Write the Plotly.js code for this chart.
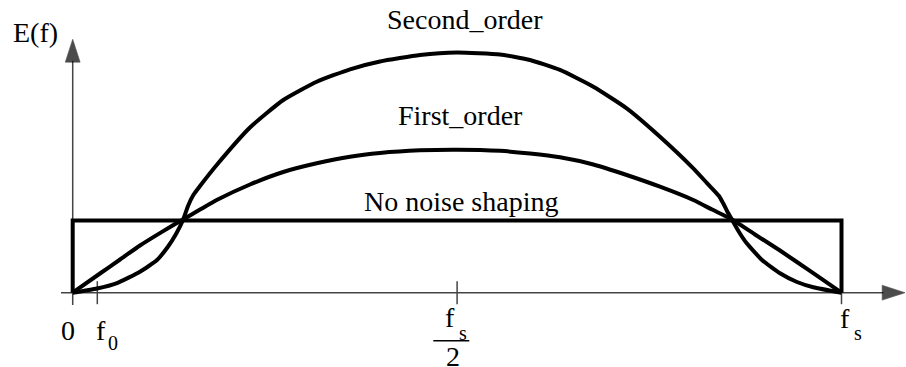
<!DOCTYPE html>
<html>
<head>
<meta charset="utf-8">
<script src="https://cdn.plot.ly/plotly-3.0.1.min.js"></script>
<style>
  html, body { margin: 0; padding: 0; background: #fff; }
  #chart { width: 906px; height: 367px; }
</style>
</head>
<body>
<div id="chart"></div>
<script>
// Quantisation noise spectrum E(f) versus normalised frequency f/fs.
// Noise level unit = the flat (unshaped) noise floor.

const freqFlat  = [0, 0, 1, 1];
const noiseFlat = [0, 1, 1, 0];

const freqFirst  = [0, 0.0355, 0.0616, 0.0875, 0.1161, 0.1439, 0.1656, 0.1873, 0.2306, 0.2739,
                    0.3174, 0.3607, 0.3997, 0.4517, 0.4999, 0.5558, 0.5948, 0.6338, 0.6772,
                    0.7206, 0.7639, 0.8072, 0.8316, 0.8572, 0.8875, 0.9200, 0.9590, 1.0];
const noiseFirst = [0, 0.266, 0.460, 0.654, 0.843, 1.017, 1.151, 1.284, 1.499, 1.672,
                    1.792, 1.884, 1.935, 1.972, 1.981, 1.965, 1.928, 1.875, 1.776,
                    1.630, 1.468, 1.284, 1.152, 1.017, 0.806, 0.584, 0.301, 0];

const freqSecond  = [0, 0.0316, 0.0576, 0.0875, 0.1097, 0.1236, 0.1344, 0.1439, 0.1500, 0.1569,
                     0.1656, 0.1873, 0.2306, 0.2739, 0.3174, 0.3607, 0.3997, 0.4517, 0.4999,
                     0.5558, 0.5948, 0.6338, 0.6772, 0.7206, 0.7639, 0.8072, 0.8250, 0.8407,
                     0.8459, 0.8511, 0.8572, 0.8667, 0.8767, 0.8966, 0.9200, 0.9421, 0.9633, 1.0];
const noiseSecond = [0, 0.058, 0.134, 0.291, 0.453, 0.633, 0.813, 1.017, 1.201, 1.353,
                     1.478, 1.769, 2.288, 2.669, 2.922, 3.094, 3.202, 3.292, 3.327,
                     3.299, 3.223, 3.085, 2.853, 2.554, 2.161, 1.723, 1.519, 1.339,
                     1.242, 1.132, 1.017, 0.841, 0.684, 0.453, 0.269, 0.148, 0.075, 0];

const seriesNames = ['No noise shaping', 'First_order', 'Second_order'];
const tickFreqs = [0, 0.032, 0.5, 1];   // 0, f0, fs/2, fs
const yAxisLabel = 'E(f)';

// ---- page geometry -------------------------------------------------------
const W = 906, H = 367;
const X0PX = 72.7, XSCALE = 768.8;   // pixel of f = 0, pixels per fs
const Y0PX = 292.7, YSCALE = 72.2;   // pixel of E = 0, pixels per unit
const xRange = [-X0PX / XSCALE, (W - X0PX) / XSCALE];
const yRange = [-(H - Y0PX) / YSCALE, Y0PX / YSCALE];

// axis extents (in axis units)
const AX_X_START = -11.7 / XSCALE, AX_X_END = (905 - X0PX) / XSCALE;
const AX_Y_START = -12.3 / YSCALE, AX_Y_END = (Y0PX - 39.3) / YSCALE;

const FONT = 'Liberation Serif';
const CURVE = { color: '#000', width: 4 };
const SMOOTH = { shape: 'spline', smoothing: 0.5 };

function axisArrow(xs, ys) {
  return {
    x: xs, y: ys, type: 'scatter', mode: 'lines+markers', cliponaxis: false,
    line: { color: '#444', width: 1.5 },
    marker: { symbol: 'arrow', size: [0, 24], angleref: 'previous', color: '#000',
              line: { width: 0.6, color: '#000' } },
    hoverinfo: 'skip', showlegend: false
  };
}

const traces = [
  axisArrow([AX_X_START, AX_X_END], [0, 0]),
  axisArrow([0, 0], [AX_Y_START, AX_Y_END]),
  { x: freqFlat, y: noiseFlat, name: seriesNames[0], type: 'scatter', mode: 'lines',
    line: CURVE, showlegend: false },
  { x: freqFirst, y: noiseFirst, name: seriesNames[1], type: 'scatter', mode: 'lines',
    line: Object.assign({}, SMOOTH, CURVE), showlegend: false },
  { x: freqSecond, y: noiseSecond, name: seriesNames[2], type: 'scatter', mode: 'lines',
    line: Object.assign({}, SMOOTH, CURVE), showlegend: false }
];

function label(text, x, y, xshift, yshift, size, xanchor) {
  return {
    text: text, x: x, y: y, xref: 'x', yref: 'y',
    xshift: xshift, yshift: yshift, showarrow: false,
    xanchor: xanchor || 'center', yanchor: 'middle', borderpad: 0,
    font: { family: FONT, size: size || 28, color: '#000' }
  };
}

const peakFirst = Math.max(...noiseFirst);
const peakSecond = Math.max(...noiseSecond);

const annotations = [
  label(yAxisLabel, 0, AX_Y_END, -37.2, 7.1),
  label(seriesNames[2], 0.5, peakSecond, 7.4, 32.5),
  label(seriesNames[1], 0.5, peakFirst, 3.4, 34.2),
  label(seriesNames[0], 0.5, 1, 3.9, 19.3),
  // tick labels
  label('0', tickFreqs[0], 0, -4.4, -37.8),
  label('f', tickFreqs[1], 0, 3.7, -37.8),
  label('0', tickFreqs[1], 0, 16, -50.5, 20),
  label('f', tickFreqs[2], 0, -7.1, -25.1),
  label('s', tickFreqs[2], 0, 5.9, -40.5, 20),
  label('2', tickFreqs[2], 0, -4.6, -63.5),
  label('f', tickFreqs[3], 0, 3.5, -25.8),
  label('s', tickFreqs[3], 0, 16.5, -40.5, 20)
];

// tick marks crossing the frequency axis, plus the fraction bar of fs/2
const shapes = tickFreqs.slice(1).map(f => ({
  type: 'line', xref: 'x', yref: 'y', x0: f, x1: f,
  ysizemode: 'pixel', yanchor: 0, y0: -11.5, y1: 11.5,
  line: { color: '#444', width: 1.5 }, layer: 'below'
}));
shapes.push({
  type: 'line', xref: 'x', yref: 'y', xsizemode: 'pixel', xanchor: tickFreqs[2],
  x0: -23.8, x1: 12.2, ysizemode: 'pixel', yanchor: 0, y0: -48, y1: -48,
  line: { color: '#000', width: 1.4 }
});

const layout = {
  width: W, height: H,
  margin: { l: 0, r: 0, t: 0, b: 0, pad: 0 },
  paper_bgcolor: '#fff', plot_bgcolor: '#fff',
  showlegend: false,
  font: { family: FONT, size: 28, color: '#000' },
  xaxis: { range: xRange, visible: false, fixedrange: true },
  yaxis: { range: yRange, visible: false, fixedrange: true },
  annotations: annotations,
  shapes: shapes
};

Plotly.newPlot('chart', traces, layout, { staticPlot: true, displayModeBar: false });
</script>
</body>
</html>
